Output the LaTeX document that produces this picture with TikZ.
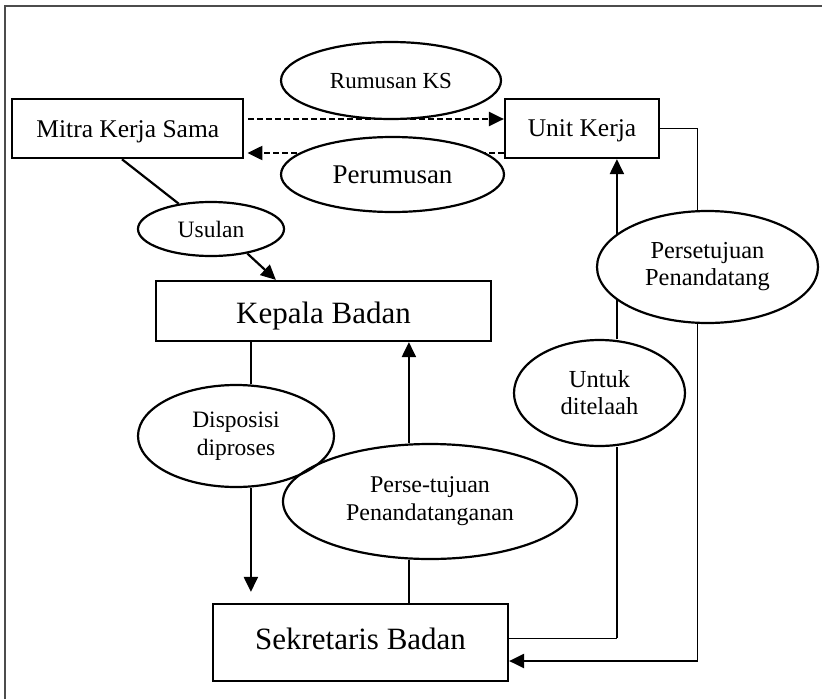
\documentclass[tikz,border=0pt]{standalone}
\usepackage{fontspec}
\setmainfont{Liberation Serif}
\usetikzlibrary{shapes.geometric,arrows.meta,calc}
\pgfdeclarelayer{background}
\pgfsetlayers{background,main}
\begin{document}
\begin{tikzpicture}[x=1pt,y=-1pt,
  box/.style={draw,line width=2.2pt,inner sep=0pt,align=center},
  oval/.style={ellipse,draw,line width=2.2pt,inner sep=0pt,align=center},
  link/.style={line width=2.2pt},
  thinlink/.style={line width=1pt},
  arr/.style={link,-{Triangle[length=15pt,width=14pt]}},
  darr/.style={arr,dash pattern=on 6pt off 3pt},
  frame/.style={line width=1.4pt,black!70}]
\useasboundingbox (0,0) rectangle (822,699);
\draw[frame] (5,699) -- (5,6) -- (822,6);

% boxes
\node[box,minimum width=231pt,minimum height=59pt,text depth=0pt,font=\fontsize{25.5}{28}\selectfont] (mitra) at (127.8,128.7) {Mitra Kerja Sama};
\node[box,minimum width=154pt,minimum height=59pt,text depth=0pt,font=\fontsize{25.5}{28}\selectfont] (unit) at (582,128.5) {Unit Kerja};
\node[box,minimum width=335pt,minimum height=60pt,text height=25pt,text depth=0pt,font=\fontsize{31}{34}\selectfont] (kepala) at (323.5,311) {Kepala Badan};
\node[box,minimum width=295pt,minimum height=77pt,text depth=8.4pt,font=\fontsize{31}{34}\selectfont] (sekre) at (360.5,642.5) {Sekretaris Badan};

% ellipses
\node[oval,minimum width=220pt,minimum height=77pt,font=\fontsize{23}{26}\selectfont] (rumusan) at (391,80.5) {Rumusan KS};
\node[oval,fill=white,minimum width=223pt,minimum height=75pt,font=\fontsize{27}{30}\selectfont] (perumusan) at (392.5,174.5) {Perumusan};
\node[oval,minimum width=146pt,minimum height=54pt,font=\fontsize{23.5}{26}\selectfont] (usulan) at (211,229) {Usulan};
\node[oval,minimum width=196pt,minimum height=102pt,font=\fontsize{23.5}{28}\selectfont] (disposisi) at (236,436) {Disposisi\\diproses};
\node[oval,minimum width=294pt,minimum height=115pt,font=\fontsize{24}{28}\selectfont] (perse) at (430,501.5) {Perse-tujuan\\Penandatanganan};
\node[oval,minimum width=171pt,minimum height=106pt,font=\fontsize{24.5}{27}\selectfont] (untuk) at (599.5,393) {Untuk\\ditelaah};
\node[oval,fill=white,minimum width=221pt,minimum height=112pt,font=\fontsize{24.4}{27}\selectfont] (persetujuan) at (707.5,267) {Persetujuan\\Penandatang};

\begin{pgfonlayer}{background}
% Mitra - Usulan - Kepala
\draw[link] ($(mitra.south)+(-5.8,0)$) -- (usulan);
\draw[arr] (usulan.-34) -- ($(kepala.north west)+(121,0)$);
% Kepala - Disposisi - Sekretaris
\coordinate (kx) at ($(kepala.south west)+(96,0)$);
\draw[link] (kx) -- (kx |- disposisi.north);
\draw[arr] (kx |- disposisi.south) -- ($(kx |- sekre.north)+(0,-11)$);
% Sekretaris - Perse-tujuan - Kepala
\coordinate (px) at ($(kepala.south west)+(254,0)$);
\draw[link] (px |- sekre.north) -- (px |- perse.south);
\draw[arr] (px |- perse.north) -- (px);
% Sekretaris - Untuk ditelaah - Unit Kerja
\coordinate (sx) at ($(sekre.east)+(0,-4.5)$);
\coordinate (ux) at ($(unit.south west)+(113,0)$);
\draw[thinlink] (sx) -- (sx -| ux);
\draw[link] (sx -| ux) -- (ux |- untuk.south);
\draw[arr] (ux |- untuk.north) -- (ux);
% Unit Kerja - Persetujuan Penandatang - Sekretaris
\coordinate (rx) at ($(unit.east)+(37,0)$);
\coordinate (sy) at ($(sekre.east)+(0,18.5)$);
\draw[thinlink] (unit.east) -- (rx) -- (rx |- persetujuan.north);
\draw[thinlink] (rx |- persetujuan.south) -- (rx |- sy);
\draw[arr] ($(rx |- sy)+(0.5,0)$) -- (sy);
% dashed exchange
\draw[darr] ($(mitra.east)+(4,-9.7)$) -- ($(unit.west)+(0,-9.5)$);
\draw[darr] ($(unit.west)+(0,24.5)$) -- ($(mitra.east)+(3,24.3)$);
\end{pgfonlayer}
\end{tikzpicture}
\end{document}
